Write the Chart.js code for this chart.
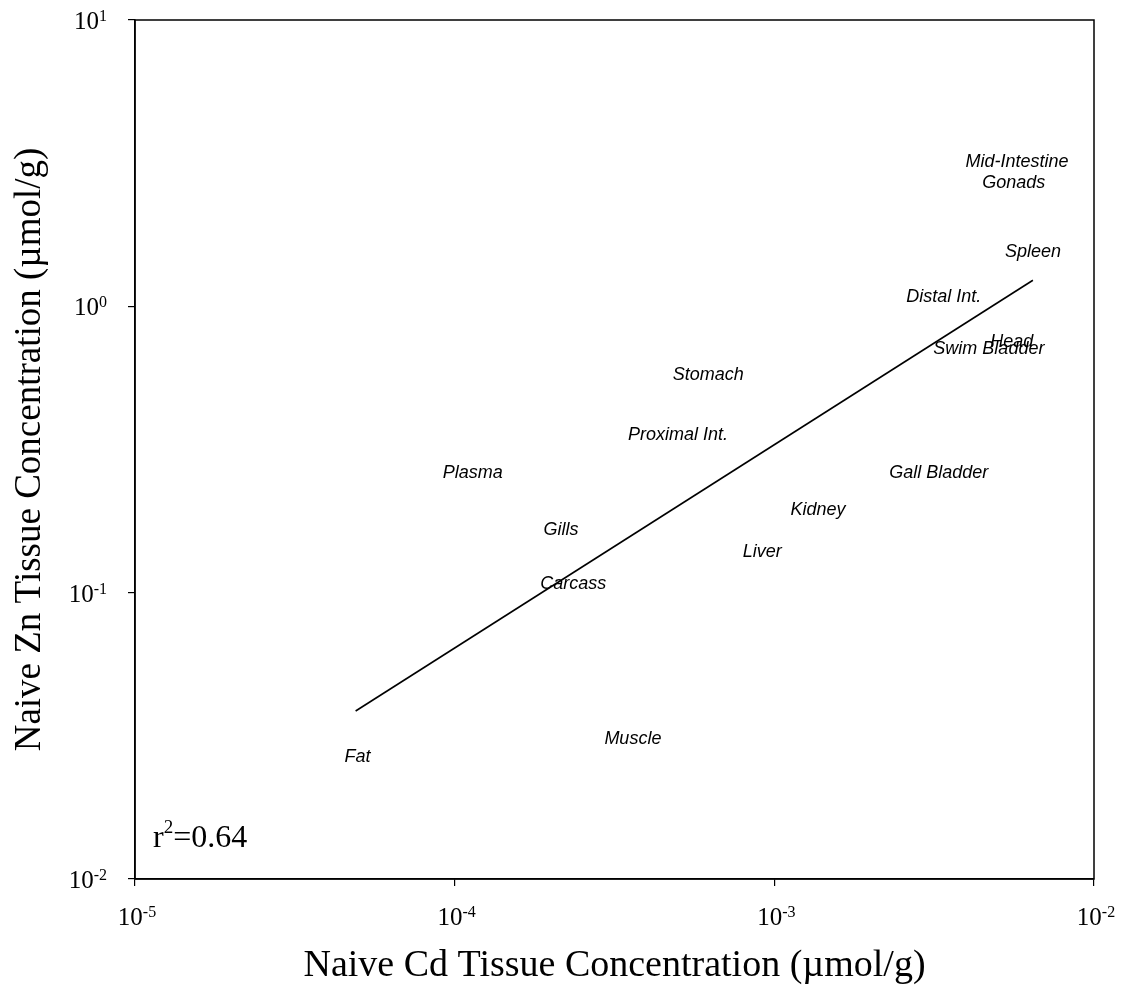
<!DOCTYPE html>
<html>
<head>
<meta charset="utf-8">
<script src="https://cdn.jsdelivr.net/npm/chart.js@4"></script>
<style>
  html, body { margin: 0; padding: 0; background: #fff; }
  #wrap { width: 1128px; height: 1006px; }
</style>
</head>
<body>
<div id="wrap"><canvas id="chart" width="1128" height="1006"></canvas></div>
<script>
// tissues, naive Cd (x) and Zn (y) concentrations in umol/g
const tissues = ['Mid-Intestine', 'Gonads', 'Spleen', 'Distal Int.', 'Head', 'Swim Bladder',
  'Stomach', 'Proximal Int.', 'Plasma', 'Gills', 'Carcass', 'Liver', 'Kidney',
  'Gall Bladder', 'Muscle', 'Fat'];
const cdValues = [5.74e-3, 5.61e-3, 6.44e-3, 3.39e-3, 5.53e-3, 4.69e-3,
  6.21e-4, 5.0e-4, 1.14e-4, 2.15e-4, 2.35e-4, 9.17e-4, 1.37e-3,
  3.27e-3, 3.61e-4, 4.97e-5];
const znValues = [3.19, 2.69, 1.545, 1.08, 0.748, 0.708,
  0.578, 0.356, 0.261, 0.165, 0.107, 0.139, 0.195,
  0.261, 0.0309, 0.0267];

// fitted regression line ends
const fitX = [4.9e-5, 6.44e-3];
const fitY = [0.0386, 1.233];
const rSquared = '0.64';

function decadeExp(v) {
  const l = Math.log10(v);
  const e = Math.round(l);
  return Math.abs(l - e) < 1e-6 ? e : null;
}

const serif = '"Liberation Serif", "Times New Roman", serif';
const sans = '"Liberation Sans", Arial, sans-serif';

// writes "10" followed by a raised exponent; anchor = 'center' or 'right'
function drawPower(ctx, exp, x, y, anchor) {
  ctx.font = '25px ' + serif;
  const baseW = ctx.measureText('10').width;
  ctx.font = '16px ' + serif;
  const expW = ctx.measureText(String(exp)).width;
  const total = baseW + expW;
  const x0 = anchor === 'right' ? x - total : x - total / 2;
  ctx.font = '25px ' + serif;
  ctx.fillText('10', x0, y);
  ctx.font = '16px ' + serif;
  ctx.fillText(String(exp), x0 + baseW, y - 8);
}

const overlay = {
  id: 'overlay',
  afterDatasetsDraw(chart) {
    const ctx = chart.ctx;
    const meta = chart.getDatasetMeta(0);
    ctx.save();
    ctx.fillStyle = '#000';
    ctx.font = 'italic 18px ' + sans;
    ctx.textAlign = 'center';
    ctx.textBaseline = 'middle';
    meta.data.forEach((pt, i) => ctx.fillText(tissues[i], pt.x, pt.y));

    // frame around plot area
    const a = chart.chartArea;
    ctx.strokeStyle = '#000';
    ctx.lineWidth = 1.5;
    ctx.strokeRect(a.left, a.top, a.right - a.left, a.bottom - a.top);

    // decade tick labels
    ctx.textAlign = 'left';
    ctx.textBaseline = 'alphabetic';
    const xs = chart.scales.x, ys = chart.scales.y;
    xs.ticks.forEach(t => {
      const e = decadeExp(t.value);
      if (e !== null) drawPower(ctx, e, xs.getPixelForValue(t.value) + 2, a.bottom + 46, 'center');
    });
    ys.ticks.forEach(t => {
      const e = decadeExp(t.value);
      if (e !== null) drawPower(ctx, e, a.left - 28, ys.getPixelForValue(t.value) + 9, 'right');
    });

    // r squared note
    ctx.font = '32px ' + serif;
    const bx = a.left + 18, by = a.bottom - 32;
    ctx.fillText('r', bx, by);
    const rw = ctx.measureText('r').width;
    ctx.font = '19px ' + serif;
    ctx.fillText('2', bx + rw, by - 14);
    const sw = ctx.measureText('2').width;
    ctx.font = '32px ' + serif;
    ctx.fillText('=' + rSquared, bx + rw + sw, by);
    ctx.restore();
  }
};

new Chart(document.getElementById('chart'), {
  type: 'scatter',
  data: {
    datasets: [
      {
        label: 'Tissues',
        data: cdValues.map((x, i) => ({ x: x, y: znValues[i] })),
        pointRadius: 0,
        pointHoverRadius: 0
      },
      {
        type: 'line',
        label: 'Fit',
        data: fitX.map((x, i) => ({ x: x, y: fitY[i] })),
        borderColor: '#000',
        borderWidth: 1.6,
        pointRadius: 0,
        fill: false
      }
    ]
  },
  plugins: [overlay],
  options: {
    responsive: false,
    animation: false,
    layout: { padding: { top: 20, right: 34, left: 0, bottom: 0 } },
    plugins: { legend: { display: false }, tooltip: { enabled: false } },
    scales: {
      x: {
        type: 'logarithmic',
        min: 1e-5,
        max: 1e-2,
        afterFit(scale) { scale.height = 127; },
        border: { display: true, color: '#000', width: 1.5 },
        grid: { display: true, drawOnChartArea: false, drawTicks: true, tickLength: 7, color: '#000', lineWidth: 1.2 },
        ticks: {
          autoSkip: false,
          maxRotation: 0,
          font: { size: 10 },
          callback: v => decadeExp(v) === null ? null : ''
        },
        title: {
          display: true,
          text: 'Naive Cd Tissue Concentration (\u00B5mol/g)',
          color: '#000',
          font: { family: serif, size: 38 },
          padding: { top: 0, bottom: 17 }
        }
      },
      y: {
        type: 'logarithmic',
        min: 1e-2,
        max: 10,
        afterFit(scale) { scale.width = 135; },
        border: { display: true, color: '#000', width: 1.5 },
        grid: { display: true, drawOnChartArea: false, drawTicks: true, tickLength: 7, color: '#000', lineWidth: 1.2 },
        ticks: {
          autoSkip: false,
          font: { size: 10 },
          callback: v => decadeExp(v) === null ? null : ''
        },
        title: {
          display: true,
          text: 'Naive Zn Tissue Concentration (\u00B5mol/g)',
          color: '#000',
          font: { family: serif, size: 37 },
          padding: { top: 8, bottom: 0 }
        }
      }
    }
  }
});
</script>
</body>
</html>
